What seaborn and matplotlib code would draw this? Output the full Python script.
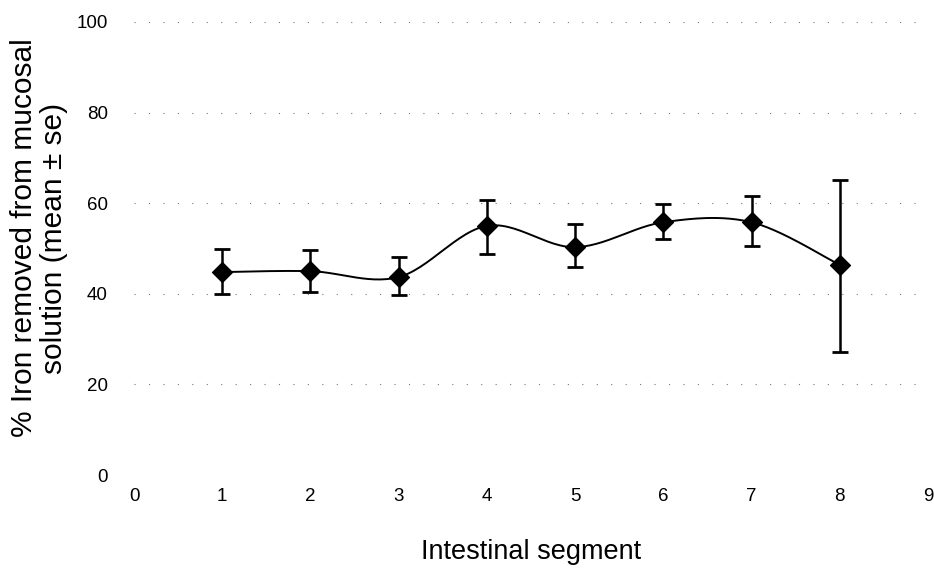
import numpy as np
import pandas as pd
import matplotlib
matplotlib.use("Agg")
import matplotlib.pyplot as plt
import seaborn as sns

segments = [1, 2, 3, 4, 5, 6, 7, 8]
iron_removed = [44.8, 45.0, 43.7, 55.0, 50.3, 55.8, 55.8, 46.4]
err_upper = [49.8, 49.7, 48.1, 60.7, 55.4, 59.8, 61.6, 65.1]
err_lower = [39.9, 40.4, 39.7, 48.8, 45.9, 52.1, 50.5, 27.2]
x_ticks = list(range(0, 10))
y_ticks = [0, 20, 40, 60, 80, 100]


def smooth_curve(x, y, steps=30):
    # Catmull-Rom style smoothing like the spreadsheet "smoothed line"
    x = np.asarray(x, float)
    y = np.asarray(y, float)
    px = np.concatenate([[x[0]], x, [x[-1]]])
    py = np.concatenate([[y[0]], y, [y[-1]]])
    xs, ys = [], []
    t = np.linspace(0, 1, steps)
    for i in range(1, len(px) - 2):
        for p, out in ((px, xs), (py, ys)):
            p0, p1, p2, p3 = p[i - 1], p[i], p[i + 1], p[i + 2]
            out.extend(0.5 * ((2 * p1) + (-p0 + p2) * t
                              + (2 * p0 - 5 * p1 + 4 * p2 - p3) * t ** 2
                              + (-p0 + 3 * p1 - 3 * p2 + p3) * t ** 3))
    return np.array(xs), np.array(ys)


sns.set_style("white")
plt.rcParams['font.family'] = ['Liberation Sans', 'DejaVu Sans']
plt.rcParams['text.color'] = 'black'

df = pd.DataFrame({"segment": segments, "iron": iron_removed})
cx, cy = smooth_curve(segments, iron_removed)

fig = plt.figure(figsize=(9.34, 5.71), dpi=100)
ax = fig.add_axes([0.1435, 0.168, 0.85, 0.7935])

sns.lineplot(x=cx, y=cy, ax=ax, color="black", linewidth=1.4, sort=False)
yerr = [np.array(iron_removed) - np.array(err_lower),
        np.array(err_upper) - np.array(iron_removed)]
ax.errorbar(segments, iron_removed, yerr=yerr, fmt="none", ecolor="black",
            elinewidth=1.8, capsize=6, capthick=2)
sns.scatterplot(data=df, x="segment", y="iron", ax=ax, marker="D", s=105,
                color="black", edgecolor="black", zorder=5)

ax.set_xlim(0, 9)
ax.set_ylim(0, 100)
ax.set_xticks(x_ticks)
ax.set_yticks(y_ticks)
ax.tick_params(axis="both", length=0, labelsize=13.5, colors="black")
ax.tick_params(axis="y", pad=19)
ax.tick_params(axis="x", pad=9)
ax.grid(axis="y", color="#777777", linestyle=(0, (1, 12)), linewidth=0.8)
for s in ax.spines.values():
    s.set_visible(False)

ax.set_xlabel("")
ax.set_ylabel("")
fig.text(0.5 * (0.1435 + 0.9935), 1 - 552 / 571, "Intestinal segment",
         fontsize=19.5, ha="center", va="center", color="black")
fig.text(39 / 934, 1 - 238 / 571,
         "% Iron removed from mucosal\nsolution (mean \u00b1 se)",
         fontsize=21.5, rotation=90, ha="center", va="center",
         linespacing=1.05, color="black")

fig.savefig("out.png", dpi=100)
